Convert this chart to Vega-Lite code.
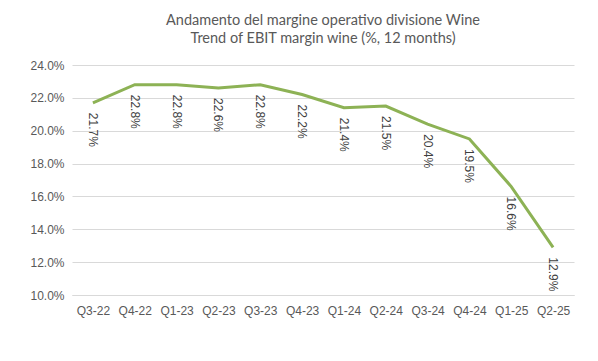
{
  "$schema": "https://vega.github.io/schema/vega-lite/v6.json",
  "width": 502,
  "height": 230,
  "autosize": {"type": "none"},
  "padding": {"left": 72, "top": 65, "right": 24, "bottom": 66},
  "background": "white",
  "title": {
    "text": ["Andamento del margine operativo divisione Wine", "Trend of EBIT margin wine (%, 12 months)"],
    "font": "Lato",
    "fontSize": 14.5,
    "fontWeight": "normal",
    "color": "#595959",
    "anchor": "middle",
    "lineHeight": 18,
    "offset": 13
  },
  "config": {
    "view": {"stroke": null},
    "font": "Liberation Sans"
  },
  "data": {
    "values": [
      {"q": "Q3-22", "v": 0.217},
      {"q": "Q4-22", "v": 0.228},
      {"q": "Q1-23", "v": 0.228},
      {"q": "Q2-23", "v": 0.226},
      {"q": "Q3-23", "v": 0.228},
      {"q": "Q4-23", "v": 0.222},
      {"q": "Q1-24", "v": 0.214},
      {"q": "Q2-24", "v": 0.215},
      {"q": "Q3-24", "v": 0.204},
      {"q": "Q4-24", "v": 0.195},
      {"q": "Q1-25", "v": 0.166},
      {"q": "Q2-25", "v": 0.129}
    ]
  },
  "encoding": {
    "x": {
      "field": "q", "type": "ordinal", "sort": null,
      "scale": {"paddingInner": 0, "paddingOuter": 0.5},
      "axis": {
        "title": null, "labelAngle": 0, "labelFontSize": 12, "labelColor": "#595959",
        "ticks": false, "domainColor": "#d9d9d9", "domainWidth": 1, "labelPadding": 10
      }
    },
    "y": {
      "field": "v", "type": "quantitative",
      "scale": {"domain": [0.10, 0.24], "nice": false},
      "axis": {
        "title": null, "values": [0.10, 0.12, 0.14, 0.16, 0.18, 0.20, 0.22, 0.24],
        "format": ".1%",
        "labelFontSize": 12, "labelColor": "#595959", "ticks": false, "domain": false,
        "gridColor": "#d9d9d9", "labelPadding": 8
      }
    }
  },
  "layer": [
    {
      "mark": {"type": "line", "color": "#8db255", "strokeWidth": 3}
    },
    {
      "mark": {"type": "text", "angle": 90, "align": "left", "baseline": "middle", "dx": 10, "fontSize": 12, "color": "#404040"},
      "encoding": {
        "text": {"field": "v", "type": "quantitative", "format": ".1%"}
      }
    }
  ]
}
